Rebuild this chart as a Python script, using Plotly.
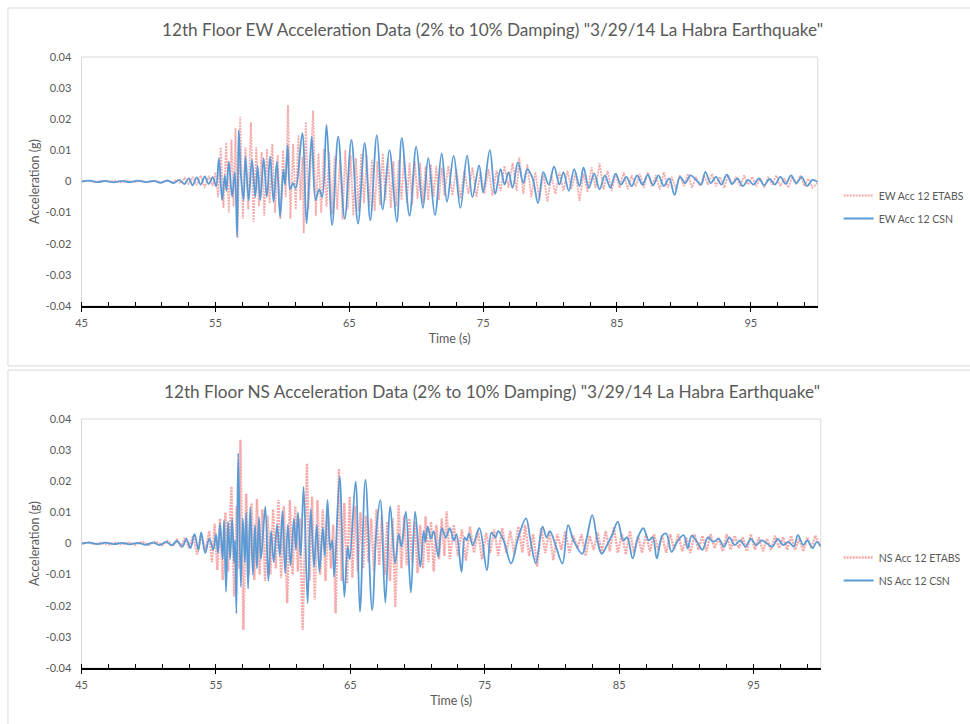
import plotly.graph_objects as go

# ---------------------------------------------------------------------------
# 12th floor acceleration records, 3/29/14 La Habra earthquake.
# Each series is a list of (time [s], acceleration [g]) turning points.
# ---------------------------------------------------------------------------

EW_ETABS = [
    (45.0, 0.0000), (45.5, 0.0002), (46.0, -0.0002), (46.5, 0.0003), (47.0, -0.0001),
    (47.5, 0.0002), (48.0, -0.0003), (48.5, 0.0002), (49.0, -0.0002), (49.5, 0.0003),
    (50.0, -0.0003), (50.5, 0.0002), (51.0, -0.0004), (51.4, 0.0004), (51.8, -0.0003),
    (52.1, 0.0006), (52.4, -0.0006), (52.7, 0.0012), (53.0, -0.0008), (53.3, 0.0015),
    (53.6, -0.0012), (53.9, 0.0020), (54.2, -0.0020), (54.5, 0.0018), (54.8, -0.0015),
    (55.0, 0.0030), (55.2, -0.0050), (55.4, 0.0110), (55.6, -0.0085), (55.8, 0.0125),
    (56.0, -0.0100), (56.2, 0.0135), (56.35, -0.0080), (56.5, 0.0172), (56.65, -0.0182),
    (56.85, 0.0208), (57.05, -0.0120), (57.25, 0.0110), (57.45, -0.0090), (57.65, 0.0190),
    (57.85, -0.0130), (58.05, 0.0110), (58.25, -0.0080), (58.45, 0.0095), (58.65, -0.0110),
    (58.85, 0.0105), (59.05, -0.0070), (59.25, 0.0120), (59.45, -0.0100), (59.65, 0.0085),
    (59.85, -0.0120), (60.05, 0.0100), (60.25, -0.0050), (60.42, 0.0246), (60.6, -0.0120),
    (60.8, 0.0120), (61.0, -0.0090), (61.2, 0.0150), (61.35, -0.0060), (61.5, 0.0080),
    (61.6, -0.0166), (61.75, 0.0192), (61.95, -0.0090), (62.3, 0.0228), (62.5, -0.0110),
    (62.7, 0.0090), (62.9, -0.0100), (63.1, 0.0105), (63.3, -0.0080), (63.5, 0.0095),
    (63.7, -0.0105), (63.9, 0.0080), (64.1, -0.0090), (64.3, 0.0070), (64.5, -0.0122),
    (64.7, 0.0100), (64.9, -0.0090), (65.1, 0.0085), (65.3, -0.0110), (65.5, 0.0075),
    (65.7, -0.0095), (65.9, 0.0090), (66.1, -0.0070), (66.3, 0.0085), (66.5, -0.0080),
    (66.7, 0.0070), (66.9, -0.0095), (67.1, 0.0065), (67.3, -0.0075), (67.5, 0.0090),
    (67.7, -0.0060), (67.9, 0.0075), (68.1, -0.0085), (68.3, 0.0065), (68.5, -0.0080),
    (68.7, 0.0070), (68.9, -0.0060), (69.1, 0.0080), (69.3, -0.0070), (69.5, 0.0060),
    (69.7, -0.0075), (69.9, 0.0065), (70.1, -0.0055), (70.3, 0.0060), (70.5, -0.0070),
    (70.7, 0.0050), (70.9, -0.0060), (71.1, 0.0055), (71.3, -0.0050), (71.5, 0.0050),
    (71.7, -0.0060), (71.9, 0.0045), (72.1, -0.0045), (72.4, 0.0050), (72.7, -0.0045),
    (73.0, 0.0040), (73.3, -0.0055), (73.6, 0.0035), (73.9, -0.0040), (74.2, 0.0045),
    (74.5, -0.0050), (74.8, 0.0030), (75.1, -0.0040), (75.4, 0.0040), (75.7, -0.0045),
    (76.0, 0.0035), (76.3, -0.0030), (76.6, 0.0050), (76.9, -0.0020), (77.2, 0.0060),
    (77.5, -0.0030), (77.7, 0.0078), (78.0, -0.0040), (78.3, 0.0055), (78.6, -0.0050),
    (78.9, 0.0030), (79.2, -0.0060), (79.5, 0.0025), (79.8, -0.0065), (80.1, 0.0020),
    (80.4, -0.0040), (80.7, 0.0030), (81.0, -0.0030), (81.3, 0.0035), (81.6, -0.0025),
    (81.9, 0.0030), (82.2, -0.0062), (82.5, 0.0025), (82.8, -0.0035), (83.1, 0.0045),
    (83.4, -0.0020), (83.7, 0.0058), (84.0, -0.0025), (84.3, 0.0035), (84.6, -0.0030),
    (84.9, 0.0025), (85.2, -0.0020), (85.5, 0.0030), (85.8, -0.0025), (86.1, 0.0020),
    (86.4, -0.0015), (86.7, 0.0025), (87.0, -0.0020), (87.3, 0.0030), (87.6, -0.0015),
    (87.9, 0.0020), (88.2, -0.0025), (88.5, 0.0030), (88.8, -0.0020), (89.1, 0.0015),
    (89.4, -0.0025), (89.7, 0.0020), (90.0, -0.0015), (90.3, 0.0025), (90.6, -0.0020),
    (90.9, 0.0015), (91.2, -0.0015), (91.5, 0.0020), (91.8, -0.0010), (92.1, 0.0025),
    (92.4, -0.0015), (92.7, 0.0015), (93.0, -0.0020), (93.3, 0.0020), (93.6, -0.0010),
    (93.9, 0.0015), (94.2, -0.0015), (94.5, 0.0020), (94.8, -0.0010), (95.1, 0.0015),
    (95.4, -0.0015), (95.7, 0.0010), (96.0, -0.0020), (96.3, 0.0015), (96.6, -0.0010),
    (96.9, 0.0020), (97.2, -0.0015), (97.5, 0.0010), (97.8, -0.0020), (98.1, 0.0015),
    (98.4, -0.0010), (98.7, 0.0020), (99.0, -0.0015), (99.3, 0.0010), (99.6, -0.0020),
    (100.0, -0.0005),
]

EW_CSN = [
    (45.0, 0.0000), (45.6, 0.0003), (46.2, -0.0002), (46.8, 0.0002), (47.4, -0.0003),
    (48.0, 0.0002), (48.6, -0.0002), (49.2, 0.0003), (49.8, -0.0002), (50.4, 0.0002),
    (50.9, -0.0004), (51.4, 0.0003), (51.9, -0.0005), (52.3, 0.0005), (52.7, -0.0008),
    (53.0, 0.0010), (53.3, -0.0012), (53.6, 0.0013), (53.9, -0.0010), (54.2, 0.0016),
    (54.5, -0.0008), (54.8, 0.0014), (55.05, -0.0015), (55.26, 0.0074), (55.5, -0.0060),
    (55.7, 0.0020), (55.82, -0.0030), (56.0, 0.0064), (56.25, -0.0049), (56.45, 0.0030),
    (56.62, -0.0178), (56.74, 0.0166), (56.9, 0.0020), (57.1, -0.0060), (57.24, 0.0080),
    (57.48, -0.0060), (57.73, 0.0069), (57.98, -0.0049), (58.15, 0.0050), (58.35, -0.0060),
    (58.6, 0.0074), (58.84, -0.0049), (59.09, 0.0080), (59.34, -0.0065), (59.59, 0.0064),
    (59.83, -0.0113), (60.08, 0.0037), (60.2, -0.0010), (60.4, 0.0117), (60.58, -0.0025),
    (60.8, -0.0005), (61.0, -0.0022), (61.49, 0.0155), (61.81, -0.0135), (62.19, 0.0144),
    (62.48, -0.0060), (62.75, -0.0025), (62.98, -0.0050), (63.3, 0.0182), (63.72, -0.0140),
    (64.17, 0.0144), (64.66, -0.0120), (65.16, 0.0134), (65.65, -0.0135), (66.15, 0.0124),
    (66.57, -0.0125), (67.06, 0.0149), (67.5, -0.0090), (68.0, 0.0101), (68.55, -0.0130),
    (68.92, 0.0140), (69.5, -0.0110), (70.0, 0.0112), (70.5, -0.0085), (70.9, 0.0075),
    (71.4, -0.0108), (71.9, 0.0090), (72.3, -0.0065), (72.8, 0.0083), (73.3, -0.0085),
    (73.8, 0.0083), (74.2, -0.0050), (74.7, 0.0052), (75.0, -0.0035), (75.5, 0.0101),
    (75.9, -0.0040), (76.3, 0.0040), (76.6, -0.0010), (76.9, 0.0030), (77.2, -0.0020),
    (77.6, 0.0062), (78.0, -0.0005), (78.3, 0.0040), (78.7, 0.0010), (79.1, -0.0070),
    (79.5, 0.0030), (79.9, -0.0010), (80.3, 0.0048), (80.7, -0.0010), (81.0, 0.0030),
    (81.4, -0.0030), (81.8, 0.0040), (82.2, -0.0015), (82.5, 0.0045), (82.9, -0.0020),
    (83.3, 0.0025), (83.7, -0.0025), (84.1, 0.0020), (84.5, -0.0020), (84.9, 0.0025),
    (85.3, -0.0010), (85.7, 0.0015), (86.1, -0.0015), (86.5, 0.0020), (86.9, -0.0010),
    (87.3, 0.0022), (87.7, -0.0012), (88.1, 0.0020), (88.5, -0.0015), (88.9, 0.0010),
    (89.3, -0.0043), (89.7, 0.0015), (90.1, -0.0005), (90.5, 0.0020), (90.9, 0.0005),
    (91.3, -0.0010), (91.6, 0.0031), (92.0, -0.0005), (92.4, 0.0015), (92.8, -0.0010),
    (93.2, 0.0022), (93.6, -0.0008), (94.0, 0.0010), (94.4, -0.0015), (94.8, 0.0005),
    (95.2, -0.0010), (95.6, 0.0010), (96.0, -0.0012), (96.4, 0.0008), (96.8, -0.0010),
    (97.2, 0.0015), (97.6, -0.0008), (98.0, 0.0020), (98.4, -0.0005), (98.8, 0.0015),
    (99.2, -0.0015), (99.6, 0.0005), (100.0, -0.0002),
]

NS_ETABS = [
    (45.0, 0.0000), (45.5, 0.0003), (46.0, -0.0002), (46.5, 0.0002), (47.0, -0.0003),
    (47.5, 0.0002), (48.0, -0.0002), (48.5, 0.0003), (49.0, -0.0004), (49.5, 0.0005),
    (50.0, -0.0004), (50.5, 0.0006), (51.0, -0.0005), (51.4, 0.0008), (51.8, -0.0008),
    (52.1, 0.0012), (52.4, -0.0012), (52.7, 0.0020), (53.0, -0.0015), (53.3, 0.0025),
    (53.6, -0.0035), (53.9, 0.0030), (54.2, -0.0025), (54.5, 0.0040), (54.7, -0.0060),
    (54.9, 0.0063), (55.1, -0.0085), (55.3, 0.0080), (55.5, -0.0117), (55.7, 0.0100),
    (55.9, -0.0090), (56.15, 0.0183), (56.35, -0.0170), (56.55, 0.0120), (56.7, -0.0080),
    (56.82, 0.0333), (57.04, -0.0278), (57.25, 0.0160), (57.45, -0.0100), (57.65, 0.0130),
    (57.85, -0.0117), (58.05, 0.0143), (58.25, -0.0100), (58.45, 0.0110), (58.65, -0.0120),
    (58.85, 0.0090), (59.05, -0.0100), (59.25, 0.0110), (59.45, -0.0080), (59.65, 0.0140),
    (59.85, -0.0110), (60.05, 0.0120), (60.3, -0.0192), (60.5, 0.0140), (60.7, -0.0100),
    (60.9, 0.0120), (61.1, -0.0090), (61.25, 0.0080), (61.45, -0.0278), (61.77, 0.0257),
    (61.95, -0.0120), (62.15, 0.0150), (62.35, -0.0180), (62.55, 0.0140), (62.75, -0.0100),
    (62.95, 0.0110), (63.15, -0.0120), (63.35, 0.0090), (63.55, -0.0080), (63.72, 0.0060),
    (63.9, -0.0224), (64.15, 0.0240), (64.35, -0.0120), (64.55, 0.0130), (64.75, -0.0128),
    (64.95, 0.0150), (65.15, -0.0110), (65.35, 0.0120), (65.55, -0.0090), (65.75, 0.0100),
    (65.95, -0.0080), (66.15, 0.0090), (66.35, -0.0060), (66.55, 0.0080), (66.75, -0.0090),
    (66.95, 0.0110), (67.15, -0.0070), (67.35, 0.0090), (67.55, -0.0100), (67.75, 0.0070),
    (67.95, -0.0120), (68.15, 0.0080), (68.34, -0.0204), (68.59, 0.0124), (68.8, -0.0080),
    (69.0, 0.0090), (69.2, -0.0070), (69.4, 0.0080), (69.6, -0.0060), (69.8, 0.0070),
    (70.0, -0.0095), (70.2, 0.0060), (70.4, -0.0080), (70.6, 0.0087), (70.8, -0.0060),
    (71.0, 0.0070), (71.2, -0.0090), (71.4, 0.0060), (71.6, -0.0050), (71.8, 0.0080),
    (72.0, -0.0040), (72.16, 0.0103), (72.4, -0.0050), (72.7, 0.0060), (73.0, -0.0040),
    (73.3, 0.0045), (73.6, -0.0055), (73.9, 0.0054), (74.2, -0.0030), (74.5, 0.0040),
    (74.8, -0.0050), (75.1, 0.0035), (75.4, -0.0030), (75.7, 0.0045), (76.0, -0.0040),
    (76.3, 0.0050), (76.6, -0.0030), (76.9, 0.0040), (77.2, -0.0035), (77.5, 0.0055),
    (77.8, -0.0030), (78.0, 0.0060), (78.3, -0.0040), (78.6, 0.0030), (78.9, -0.0075),
    (79.2, 0.0050), (79.5, -0.0030), (79.8, 0.0040), (80.1, -0.0053), (80.4, 0.0030),
    (80.7, -0.0020), (81.0, 0.0040), (81.3, -0.0030), (81.6, 0.0025), (81.9, -0.0015),
    (82.2, 0.0030), (82.5, -0.0040), (82.8, 0.0025), (83.1, -0.0020), (83.4, 0.0035),
    (83.7, -0.0030), (84.0, 0.0040), (84.3, -0.0025), (84.6, 0.0054), (84.9, -0.0030),
    (85.2, 0.0030), (85.5, -0.0035), (85.8, 0.0040), (86.1, -0.0030), (86.4, 0.0025),
    (86.7, -0.0030), (87.0, 0.0030), (87.3, -0.0025), (87.6, 0.0030), (87.9, -0.0020),
    (88.2, 0.0025), (88.5, -0.0030), (88.8, 0.0030), (89.1, -0.0020), (89.4, 0.0030),
    (89.7, -0.0025), (90.0, 0.0020), (90.3, -0.0030), (90.6, 0.0030), (90.9, -0.0020),
    (91.2, 0.0025), (91.5, -0.0025), (91.8, 0.0030), (92.1, -0.0015), (92.4, 0.0020),
    (92.7, -0.0025), (93.0, 0.0030), (93.3, -0.0020), (93.6, 0.0025), (93.9, -0.0015),
    (94.2, 0.0020), (94.5, -0.0025), (94.8, 0.0030), (95.1, -0.0020), (95.4, 0.0020),
    (95.7, -0.0025), (96.0, 0.0015), (96.3, -0.0020), (96.6, 0.0025), (96.9, -0.0015),
    (97.2, 0.0020), (97.5, -0.0020), (97.8, 0.0025), (98.1, -0.0020), (98.4, 0.0015),
    (98.7, -0.0025), (99.0, 0.0020), (99.3, -0.0015), (99.6, 0.0025), (100.0, -0.0010),
]

NS_CSN = [
    (45.0, 0.0000), (45.6, 0.0003), (46.2, -0.0002), (46.8, 0.0003), (47.4, -0.0002),
    (48.0, 0.0002), (48.6, -0.0003), (49.2, 0.0002), (49.8, -0.0004), (50.3, 0.0003),
    (50.8, -0.0005), (51.3, 0.0005), (51.7, -0.0006), (52.1, 0.0008), (52.5, -0.0010),
    (52.8, 0.0015), (53.1, -0.0015), (53.4, 0.0030), (53.7, -0.0020), (53.9, 0.0036),
    (54.2, -0.0030), (54.5, 0.0015), (54.8, -0.0020), (55.0, 0.0030), (55.15, -0.0030),
    (55.3, 0.0064), (55.5, -0.0050), (55.6, 0.0075), (55.75, -0.0155), (55.9, 0.0070),
    (56.05, -0.0050), (56.2, 0.0080), (56.35, -0.0060), (56.42, 0.0010), (56.52, -0.0225),
    (56.65, 0.0290), (56.85, -0.0139), (57.0, 0.0080), (57.15, -0.0060), (57.25, 0.0100),
    (57.39, -0.0145), (57.55, 0.0117), (57.75, -0.0100), (57.9, 0.0060), (58.05, -0.0080),
    (58.2, 0.0085), (58.35, -0.0050), (58.67, 0.0118), (58.9, -0.0120), (59.1, 0.0040),
    (59.3, -0.0060), (59.55, 0.0060), (59.75, -0.0040), (59.95, 0.0104), (60.15, -0.0095),
    (60.35, 0.0060), (60.55, -0.0070), (60.8, 0.0080), (60.95, -0.0020), (61.1, 0.0100),
    (61.3, -0.0040), (61.52, 0.0182), (61.82, -0.0192), (62.05, 0.0110), (62.3, -0.0075),
    (62.5, 0.0060), (62.7, -0.0090), (62.95, 0.0050), (63.1, -0.0040), (63.3, 0.0140),
    (63.5, -0.0020), (63.65, 0.0010), (63.8, -0.0107), (64.2, 0.0215), (64.55, -0.0171),
    (64.8, -0.0010), (64.95, -0.0050), (65.39, 0.0199), (65.71, -0.0219), (66.12, 0.0204),
    (66.62, -0.0214), (66.95, 0.0050), (67.23, 0.0140), (67.6, -0.0190), (67.97, 0.0118),
    (68.33, -0.0064), (68.6, 0.0030), (68.8, -0.0010), (69.13, 0.0102), (69.5, -0.0158),
    (69.82, 0.0102), (70.2, -0.0075), (70.45, 0.0040), (70.58, 0.0005), (70.75, 0.0054),
    (71.0, 0.0015), (71.2, 0.0040), (71.54, -0.0042), (71.8, 0.0049), (72.1, 0.0020),
    (72.4, 0.0049), (72.7, 0.0010), (72.9, 0.0030), (73.27, -0.0091), (73.5, 0.0020),
    (73.65, 0.0010), (73.83, 0.0032), (74.1, -0.0005), (74.6, 0.0049), (75.16, -0.0086),
    (75.5, 0.0035), (75.8, 0.0020), (76.0, 0.0040), (76.4, 0.0010), (76.96, -0.0064),
    (77.5, 0.0020), (78.07, 0.0081), (78.4, 0.0010), (78.8, -0.0064), (79.3, 0.0054),
    (79.6, 0.0020), (79.85, 0.0040), (80.3, -0.0010), (80.78, -0.0064), (81.2, 0.0059),
    (81.6, 0.0010), (82.25, -0.0033), (82.6, 0.0020), (83.0, 0.0091), (83.4, 0.0005),
    (83.7, -0.0033), (84.1, -0.0005), (84.5, 0.0030), (84.9, 0.0070), (85.3, 0.0010),
    (85.6, 0.0020), (86.0, -0.0048), (86.4, 0.0020), (86.8, 0.0049), (87.2, 0.0010),
    (87.5, 0.0020), (87.8, -0.0048), (88.2, 0.0025), (88.5, 0.0032), (88.9, -0.0027),
    (89.3, 0.0005), (89.8, 0.0027), (90.1, -0.0016), (90.4, 0.0025), (90.8, 0.0005),
    (91.2, -0.0020), (91.6, 0.0020), (92.0, 0.0005), (92.4, 0.0015), (92.8, -0.0010),
    (93.2, 0.0020), (93.6, -0.0005), (94.0, 0.0010), (94.4, -0.0010), (94.8, 0.0015),
    (95.2, -0.0005), (95.6, 0.0010), (96.0, 0.0000), (96.4, -0.0010), (96.8, 0.0015),
    (97.2, -0.0005), (97.6, 0.0005), (98.0, -0.0010), (98.3, 0.0027), (98.7, -0.0005),
    (99.0, 0.0010), (99.4, -0.0015), (99.7, 0.0005), (100.0, -0.0010),
]

TITLES = [
    '12th Floor EW Acceleration Data (2% to 10% Damping) "3/29/14 La Habra Earthquake"',
    '12th Floor NS Acceleration Data (2% to 10% Damping) "3/29/14 La Habra Earthquake"',
]
SERIES_NAMES = [
    ("EW Acc 12 ETABS", "EW Acc 12 CSN"),
    ("NS Acc 12 ETABS", "NS Acc 12 CSN"),
]
Y_TICK_VALUES = [0.04, 0.03, 0.02, 0.01, 0.0, -0.01, -0.02, -0.03, -0.04]
Y_TICK_LABELS = ["0.04", "0.03", "0.02", "0.01", "0", "-0.01", "-0.02", "-0.03", "-0.04"]

GREY_TEXT = "#595959"
FRAME = "#d9d9d9"
BLUE = "#5B9BD5"
PINK = "rgba(243,140,140,0.75)"
FONT = "Lato"

W, H = 970, 724


def px_x(p):
    return p / W


def px_y(p):
    return 1 - p / H


fig = go.Figure()

panels = [
    dict(etabs=EW_ETABS, csn=EW_CSN, x="x", y="y", xo="x3", legend="legend",
         xdom=[px_x(82), px_x(822)], ydom=[px_y(306), px_y(57)], pink_w=1.8,
         title_y=px_y(30), legend_y=px_y(181), box=(8, 8, 366)),
    dict(etabs=NS_ETABS, csn=NS_CSN, x="x2", y="y2", xo="x4", legend="legend2",
         xdom=[px_x(82), px_x(825)], ydom=[px_y(668), px_y(419)], pink_w=2.4,
         title_y=px_y(392), legend_y=px_y(543), box=(8, 370, 730)),
]

shapes = []
annotations = []

for i, p in enumerate(panels):
    et_t, et_g = zip(*p["etabs"])
    cs_t, cs_g = zip(*p["csn"])
    name_e, name_c = SERIES_NAMES[i]
    fig.add_trace(go.Scatter(
        x=et_t, y=et_g, mode="lines", name=name_e,
        line=dict(color=PINK, width=p["pink_w"], dash="2px,1px"),
        xaxis=p["x"], yaxis=p["y"], legend=p["legend"], legendgroup=f"e{i}",
    ))
    fig.add_trace(go.Scatter(
        x=cs_t, y=cs_g, mode="lines", name=name_c,
        line=dict(color=BLUE, width=1.8, shape="spline", smoothing=1.0),
        xaxis=p["x"], yaxis=p["y"], legend=p["legend"], legendgroup=f"c{i}",
    ))

    xkey = "xaxis" if p["x"] == "x" else "xaxis2"
    ykey = "yaxis" if p["y"] == "y" else "yaxis2"
    xokey = "xaxis3" if p["xo"] == "x3" else "xaxis4"

    fig.update_layout(**{
        xkey: dict(
            domain=p["xdom"], anchor=p["y"], range=[45, 100], automargin=False,
            tickmode="linear", tick0=45, dtick=10,
            ticks="outside", ticklen=4, tickwidth=1, tickcolor="black",
            showline=True, linecolor="black", linewidth=2,
            showgrid=False, zeroline=False, ticklabelstandoff=2,
            tickfont=dict(size=11, color=GREY_TEXT, family=FONT),
            title=dict(text="Time (s)", font=dict(size=12.5, color=GREY_TEXT, family=FONT), standoff=6),
            minor=dict(tick0=45, dtick=2, ticks="inside", ticklen=4, tickcolor="black", showgrid=False),
        ),
        xokey: dict(
            domain=p["xdom"], anchor=p["y"], overlaying=p["x"], matches=p["x"],
            range=[45, 100], tickmode="linear", tick0=45, dtick=10, automargin=False,
            ticks="inside", ticklen=4, tickcolor="black", showticklabels=False,
            showline=False, showgrid=False, zeroline=False,
        ),
        ykey: dict(
            domain=p["ydom"], anchor=p["x"], range=[-0.04, 0.04], automargin=False,
            tickmode="array", tickvals=Y_TICK_VALUES, ticktext=Y_TICK_LABELS,
            ticks="", showline=True, linecolor=FRAME, linewidth=1,
            showgrid=False, zeroline=False, ticklabelstandoff=7,
            tickfont=dict(size=11, color=GREY_TEXT, family=FONT),
            title=dict(text="Acceleration (g)", font=dict(size=12.5, color=GREY_TEXT, family=FONT), standoff=3),
        ),
        p["legend"]: dict(
            x=px_x(843), y=p["legend_y"], xanchor="left", yanchor="top",
            font=dict(size=10.5, color=GREY_TEXT, family=FONT),
            bgcolor="rgba(0,0,0,0)", traceorder="grouped", tracegroupgap=4,
        ),
    })

    # plot-area frame
    shapes.append(dict(type="rect", xref=f"{p['x']} domain", yref=f"{p['y']} domain",
                       x0=0, x1=1, y0=0, y1=1, line=dict(color=FRAME, width=1), layer="below"))
    # chart panel border
    bx, btop, bbot = p["box"]
    shapes.append(dict(type="rect", xref="paper", yref="paper",
                       x0=px_x(bx), x1=px_x(990), y0=px_y(bbot), y1=px_y(btop),
                       line=dict(color=FRAME, width=1), layer="below"))
    annotations.append(dict(text=TITLES[i], xref="paper", yref="paper",
                            x=px_x(495), y=p["title_y"], xanchor="center", yanchor="middle",
                            showarrow=False, font=dict(size=17.2, color=GREY_TEXT, family=FONT)))

fig.update_layout(
    width=W, height=H,
    margin=dict(l=0, r=0, t=0, b=0),
    paper_bgcolor="white", plot_bgcolor="white",
    font=dict(family=FONT, color=GREY_TEXT),
    shapes=shapes, annotations=annotations,
    showlegend=True,
)

fig.write_html("out.html")
